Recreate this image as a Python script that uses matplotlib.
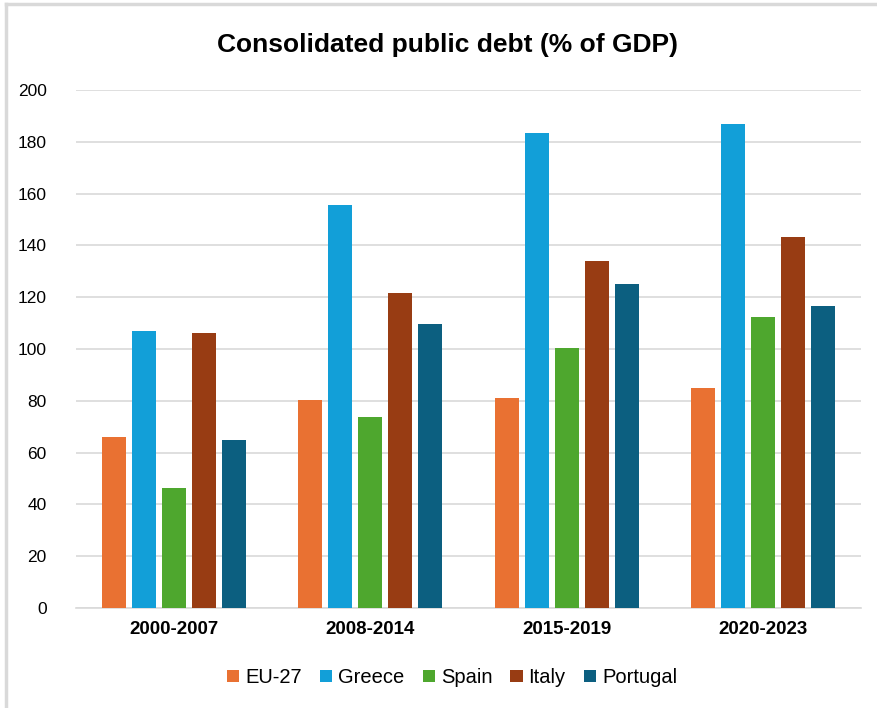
import numpy as np
import matplotlib.pyplot as plt
from matplotlib.lines import Line2D

# chart data
periods = ["2000-2007", "2008-2014", "2015-2019", "2020-2023"]
countries = ["EU-27", "Greece", "Spain", "Italy", "Portugal"]
eu27 = [66.0, 80.2, 81.2, 85.0]
greece = [107.0, 155.6, 183.4, 187.0]
spain = [46.4, 73.7, 100.5, 112.4]
italy = [106.0, 121.7, 134.1, 143.3]
portugal = [65.0, 109.8, 125.0, 116.7]
colors = ["#E97132", "#129FD8", "#4EA72E", "#983C13", "#0C5F80"]

series = [eu27, greece, spain, italy, portugal]

plt.rcParams['font.family'] = ['Liberation Sans', 'DejaVu Sans']

fig = plt.figure(figsize=(8.78, 7.08), dpi=100)
ax = fig.add_axes([0.0866, 0.1412, 0.894, 0.7317])

x = np.arange(len(periods))
step = 0.153
width = 0.122
for i, (name, vals) in enumerate(zip(countries, series)):
    ax.bar(x + (i - 2) * step, vals, width, color=colors[i], label=name, zorder=3)

ax.set_xlim(-0.5, len(periods) - 0.5)
ax.set_ylim(0, 200)
ax.set_yticks(range(0, 201, 20))
ax.grid(axis='y', color='#D9D9D9', linewidth=1.2, zorder=0)
ax.set_xticks(x)
ax.set_xticklabels(periods, fontsize=13.5, fontweight='bold')
ax.tick_params(axis='y', labelsize=12.5, length=0, pad=21)
ax.tick_params(axis='x', length=0, pad=9)
for s in ['top', 'right', 'left']:
    ax.spines[s].set_visible(False)
ax.spines['bottom'].set_color('#D9D9D9')
ax.spines['bottom'].set_linewidth(1.2)

fig.text(0.51, 0.936, "Consolidated public debt (% of GDP)", ha='center', va='center',
         fontsize=19, fontweight='bold')

fig.legend(loc='center', bbox_to_anchor=(0.515, 0.043), ncol=5, frameon=False,
           fontsize=14.5, handlelength=0.6, handleheight=0.6, handletextpad=0.3,
           columnspacing=0.9)

# outer border of the chart area
fig.add_artist(Line2D([0.007, 1.0], [0.994, 0.994], color='#D9D9D9', linewidth=2.5))
fig.add_artist(Line2D([0.007, 0.007], [0.0, 0.994], color='#D9D9D9', linewidth=2.5))

fig.savefig("out.png", dpi=100)
